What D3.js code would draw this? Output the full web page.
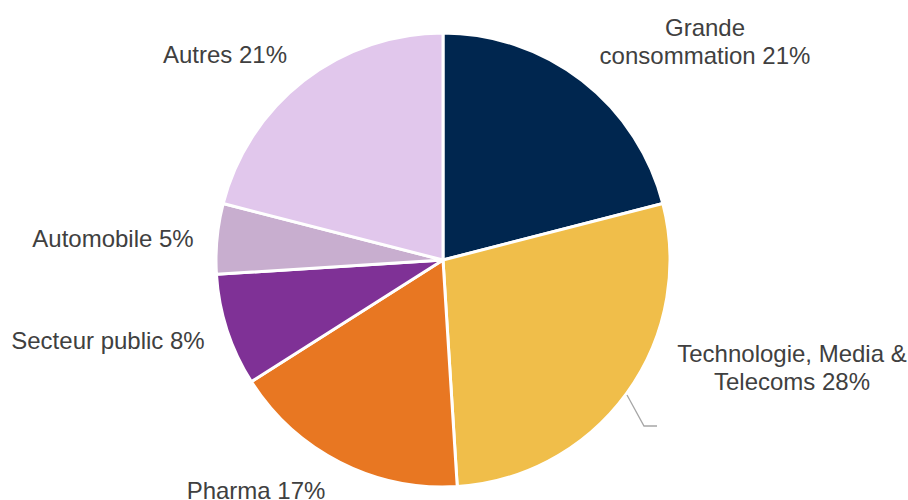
<!DOCTYPE html>
<html>
<head>
<meta charset="utf-8">
<script src="https://cdn.jsdelivr.net/npm/d3@7/dist/d3.min.js"></script>
<style>
  html, body { margin: 0; padding: 0; background: #fff; }
  svg { display: block; }
</style>
</head>
<body>
<svg id="chart" width="908" height="500"></svg>
<script>
// Revenue split by sector, clockwise from 12 o'clock
const sectors = ["Grande consommation", "Technologie, Media & Telecoms", "Pharma", "Secteur public", "Automobile", "Autres"];
const shares = [21, 28, 17, 8, 5, 21];
const colors = ["#00264F", "#F0BE4A", "#E87722", "#7F3196", "#C8AECF", "#E1C7EC"];

// Label lines (each entry is one text line) and anchor points
const labelLines = [
  ["Grande", "consommation 21%"],
  ["Technologie, Media &", "Telecoms 28%"],
  ["Pharma 17%"],
  ["Secteur public 8%"],
  ["Automobile 5%"],
  ["Autres 21%"]
];
const labelPos = [[705, 42], [792, 368], [256, 491], [108, 341], [113, 239], [225, 55]];

const svg = d3.select("#chart");
const cx = 443, cy = 260, r = 227;

const pie = d3.pie().sort(null).value(d => d.v);
const arc = d3.arc().innerRadius(0).outerRadius(r);

const data = sectors.map((s, i) => ({ name: s, v: shares[i], color: colors[i] }));

const g = svg.append("g").attr("transform", `translate(${cx},${cy})`);
g.selectAll("path.slice")
  .data(pie(data))
  .join("path")
  .attr("class", "slice")
  .attr("d", arc)
  .attr("fill", d => d.data.color)
  .attr("stroke", "#fff")
  .attr("stroke-width", 3)
  .attr("stroke-linejoin", "round");

// Leader line for the TMT label
svg.append("polyline")
  .attr("points", "627,395 644,426 657,426")
  .attr("fill", "none")
  .attr("stroke", "#A6A6A6")
  .attr("stroke-width", 1.3);

const lineH = 28;
labelLines.forEach((lines, i) => {
  const [x, y] = labelPos[i];
  const t = svg.append("text")
    .attr("text-anchor", "middle")
    .attr("font-family", "'Liberation Sans', Arial, sans-serif")
    .attr("font-size", 24)
    .attr("fill", "#404040");
  const y0 = y - (lines.length - 1) * lineH / 2;
  lines.forEach((ln, j) => {
    t.append("tspan")
      .attr("x", x)
      .attr("y", y0 + j * lineH)
      .attr("dy", "0.35em")
      .text(ln);
  });
});
</script>
</body>
</html>
